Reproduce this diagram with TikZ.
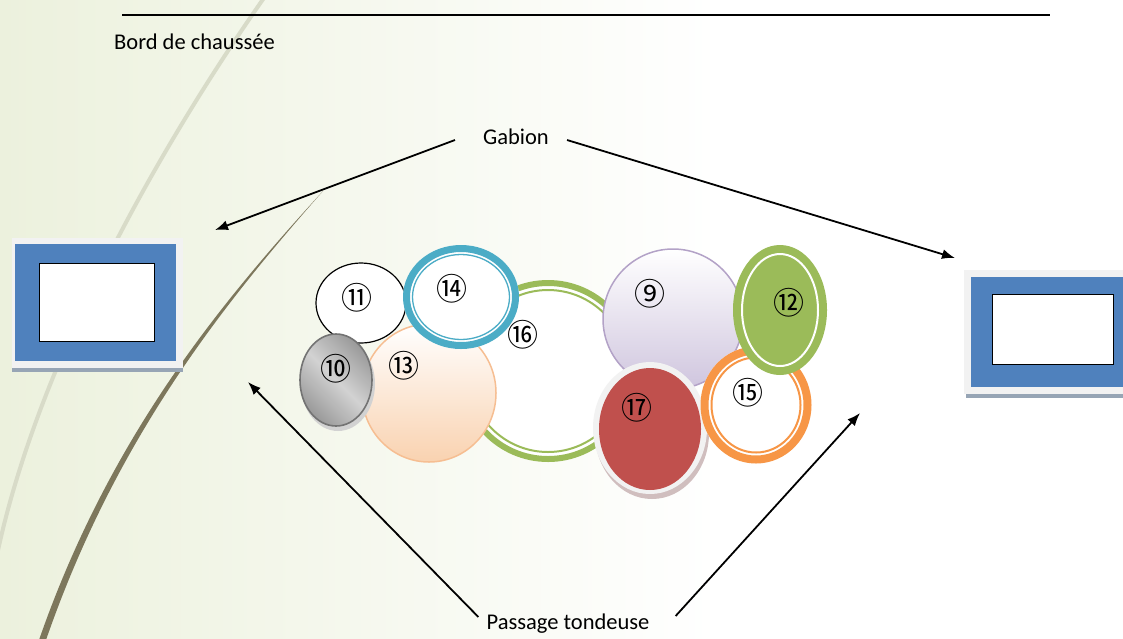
\documentclass[tikz,border=0pt]{standalone}
\usepackage{fontspec}
\setmainfont{Carlito}
\newfontfamily\numfont{Noto Sans CJK SC}
\usetikzlibrary{arrows.meta,shapes.geometric,calc}

\definecolor{bgleaf}{HTML}{ECF1DD}
\definecolor{arclight}{HTML}{D8DBC8}
\definecolor{arcdark}{HTML}{7D775C}
\definecolor{winblue}{HTML}{4F81BD}
\definecolor{framegray}{HTML}{F2F2F2}
\definecolor{shadegray}{HTML}{97A5B5}
\definecolor{aqua}{HTML}{4BACC6}
\definecolor{leaf}{HTML}{9BBB59}
\definecolor{peach}{HTML}{F9D2B0}
\definecolor{peachline}{HTML}{F6BE92}
\definecolor{lilac}{HTML}{CFC5DE}
\definecolor{lilacline}{HTML}{B3A2C7}
\definecolor{brick}{HTML}{C0504D}
\definecolor{tang}{HTML}{F79646}

\tikzset{
  lbl/.style={font=\fontsize{22.5}{26}\selectfont,inner sep=2pt},
  num/.style={font=\numfont\fontsize{31}{31}\selectfont,inner sep=0pt},
  arr/.style={-{Latex[length=13pt,width=10pt]},line width=1.8pt},
  blob/.style={ellipse,inner sep=0pt},
}

\begin{document}
\begin{tikzpicture}[x=1pt,y=-1pt]
    \useasboundingbox (0,0) rectangle (1123,638);
    % Background
    \fill[white] (0,0) rectangle (1123,638);
    \shade[left color=bgleaf,right color=white] (0,0) rectangle (720,638);
    \draw[arclight,line width=4pt] (266,-5) .. controls (150,160) and (30,380) .. (-6,570);
    \fill[arcdark] (323,191) .. controls (228,295) and (112,430) .. (39,640)
        -- (46,640) .. controls (118,432) and (230,297) .. (323,191) -- cycle;

    % Road edge
    \draw[line width=1.2pt] (122,15) -- (1050,15);
    \node[lbl,anchor=west] (bord) at (112,42) {Bord de chaussée};

    % Gabions
    \fill[framegray] (12,238) rectangle (183,368);
    \fill[shadegray] (12,368) rectangle (183,372);
    \node[fill=winblue,minimum width=161pt,minimum height=117pt,inner sep=0pt] (gabL) at (95.5,302) {};
    \node[draw,line width=1pt,fill=white,minimum width=115pt,minimum height=78pt,inner sep=0pt] (winL) at (96.5,302.5) {};
    \fill[framegray] (964,270) rectangle (1123,394);
    \fill[shadegray] (966,394) rectangle (1123,398);
    \node[fill=winblue,minimum width=152pt,minimum height=110pt,inner sep=0pt] (gabR) at (1047,332) {};
    \node[draw,line width=1pt,fill=white,minimum width=121pt,minimum height=70pt,inner sep=0pt] (winR) at (1052.5,329) {};

    % Ring 16
    \node[blob,fill=white,minimum width=180pt,minimum height=182pt] (c16) at (548,371) {};
    \draw[leaf,line width=6pt] (c16.center) ellipse [x radius=87, y radius=88];
    \draw[leaf,line width=2pt] (c16.center) ellipse [x radius=80, y radius=81];

    % Circle 13
    \shade[top color=white,bottom color=peach,draw=peachline,line width=1.5pt]
        (429,393) ellipse [x radius=67, y radius=69];
    \node[blob,minimum width=134pt,minimum height=138pt] (c13) at (429,393) {};

    % Circle 11
    \node[blob,draw,fill=white,line width=1.2pt,minimum width=90pt,minimum height=80pt] (c11) at (361,303) {};

    % Circle 10
    \fill[gray!35] (338,384) ellipse [x radius=37, y radius=47];
    \shade[left color=gray!80,right color=gray!80,middle color=gray!35,shading angle=135,draw=gray!90!black,line width=1.6pt]
        (336,380) ellipse [x radius=36, y radius=46];
    \node[blob,minimum width=74pt,minimum height=94pt] (c10) at (336,380) {};

    % Ring 14
    \node[blob,fill=white,minimum width=116pt,minimum height=104pt] (c14) at (461,297) {};
    \draw[aqua,line width=7pt] (c14.center) ellipse [x radius=54.5, y radius=48.5];
    \draw[aqua,line width=1.3pt] (c14.center) ellipse [x radius=48.5, y radius=42.5];

    % Circle 9
    \shade[top color=white,bottom color=lilac,draw=lilacline,line width=1.5pt]
        (673,319) ellipse [x radius=70, y radius=70];
    \node[blob,minimum width=140pt,minimum height=140pt] (c9) at (673,319) {};

    % Circle 17
    \fill[brick!35!gray!45] (652,433) ellipse [x radius=57, y radius=66];
    \fill[framegray] (650,428) ellipse [x radius=57, y radius=66];
    \node[blob,fill=brick,minimum width=102pt,minimum height=122pt] (c17) at (650,429) {};

    % Ring 15
    \node[blob,fill=white,minimum width=111pt,minimum height=117pt] (c15) at (756,405) {};
    \draw[tang,line width=8pt] (c15.center) ellipse [x radius=51.5, y radius=54.5];
    \draw[tang,line width=2pt] (c15.center) ellipse [x radius=44.5, y radius=47.5];

    % Circle 12
    \node[blob,fill=leaf,minimum width=94pt,minimum height=130pt] (c12) at (780,310) {};
    \draw[white,line width=2pt] (c12.center) ellipse [x radius=38, y radius=56];

    % Numbers
    \node[num] (n9)  at (650,294) {⑨};
    \node[num] (n10) at (336,369) {⑩};
    \node[num] (n11) at (357,298) {⑪};
    \node[num] (n12) at (789,303) {⑫};
    \node[num] (n13) at (404,366) {⑬};
    \node[num] (n14) at (452,289) {⑭};
    \node[num] (n15) at (748,393) {⑮};
    \node[num] (n16) at (523,335) {⑯};
    \node[num] (n17) at (637,408) {⑰};

    % Labels and arrows
    \node[lbl] (gabion) at (516,137) {Gabion};
    \node[lbl] (tondeuse) at (568,624) {Passage tondeuse};
    \coordinate (gabTipL) at (215,230);
    \coordinate (gabTipR) at (955,258);
    \coordinate (passTipL) at (248,382);
    \coordinate (passTipR) at (860,413);
    \draw[arr] ([shift={(-26,3)}]gabion.west) -- (gabTipL);
    \draw[arr] ([shift={(16,3)}]gabion.east) -- (gabTipR);
    \draw[arr] ([shift={(-6,-7)}]tondeuse.west) -- (passTipL);
    \draw[arr] ([shift={(24,-8)}]tondeuse.east) -- (passTipR);
\end{tikzpicture}
\end{document}
